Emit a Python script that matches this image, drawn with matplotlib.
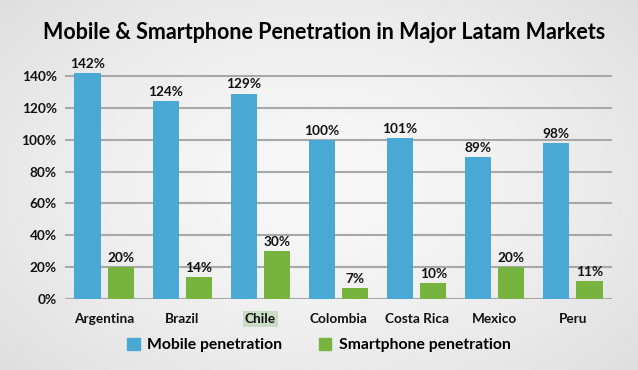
import matplotlib
matplotlib.use("Agg")
import matplotlib.pyplot as plt
import numpy as np
from matplotlib.patches import Patch

categories = ["Argentina", "Brazil", "Chile", "Colombia", "Costa Rica", "Mexico", "Peru"]
mobile = [142, 124, 129, 100, 101, 89, 98]
smartphone = [20, 14, 30, 7, 10, 20, 11]
yticks = [0, 20, 40, 60, 80, 100, 120, 140]

plt.rcParams['font.family'] = ['Lato', 'DejaVu Sans']
plt.rcParams['font.weight'] = 'bold'

fig = plt.figure(figsize=(6.38, 3.70), dpi=100)

# background gradient
bg = fig.add_axes([0, 0, 1, 1], zorder=-10)
yy, xx = np.mgrid[0:1:200j, 0:1:300j]
r = np.sqrt(((xx - 0.5) / 0.8) ** 2 + ((yy - 0.5) / 0.9) ** 2)
img = 0.97 - 0.13 * np.clip(r, 0, 1) ** 1.5
bg.imshow(img, cmap='gray', vmin=0, vmax=1, aspect='auto', extent=[0, 1, 0, 1], origin='lower')
bg.axis('off')

ax = fig.add_axes([65 / 638, (370 - 299) / 370, (612 - 65) / 638, (299 - 76) / 370 * 150 / 140])
ax.patch.set_alpha(0)

x = np.arange(len(categories))
w = 0.335
gap = 0.09
blue = '#4aa9d4'
green = '#76b43f'
ax.bar(x - (w + gap) / 2, mobile, w, color=blue, zorder=3)
ax.bar(x + (w + gap) / 2, smartphone, w, color=green, zorder=3)

for i in range(len(categories)):
    ax.text(x[i] - (w + gap) / 2, mobile[i] + 2, f"{mobile[i]}%", ha='center', va='bottom',
            fontsize=9.8, fontweight='bold', color='#111111')
    ax.text(x[i] + (w + gap) / 2, smartphone[i] + 2, f"{smartphone[i]}%", ha='center', va='bottom',
            fontsize=9.8, fontweight='bold', color='#111111')

ax.set_xlim(-0.5, len(categories) - 0.5)
ax.set_ylim(0, 150)
ax.set_yticks(yticks)
ax.set_yticklabels([f"{t}%" for t in yticks], fontsize=9.8, fontweight='bold', color='#111111')
ax.set_xticks(x)
ax.set_xticklabels(categories, fontsize=9.8, fontweight='bold', color='#111111')
ax.tick_params(axis='both', length=0, pad=6)
ax.tick_params(axis='x', pad=10)
for t in ax.get_xticklabels():
    if t.get_text() == 'Chile':
        t.set_bbox(dict(facecolor='#c9dcc4', edgecolor='none', pad=1.5))
ax.yaxis.grid(True, color='#a8a8a8', linewidth=1.5, zorder=0)
for s in ax.spines.values():
    s.set_visible(False)

fig.text(0.508, 0.912, "Mobile & Smartphone Penetration in Major Latam Markets", ha='center', va='center',
         fontsize=15.5, fontweight='bold', color='#000000')

handles = [Patch(color=blue, label='Mobile penetration'), Patch(color=green, label='Smartphone penetration')]
fig.legend(handles=handles, loc='center', bbox_to_anchor=(0.5, 0.068), ncol=2, frameon=False,
           prop={'size': 11.3, 'weight': 'bold'}, handlelength=0.8, handleheight=0.8, columnspacing=2.3,
           handletextpad=0.5)

fig.savefig('out.png', dpi=100)
